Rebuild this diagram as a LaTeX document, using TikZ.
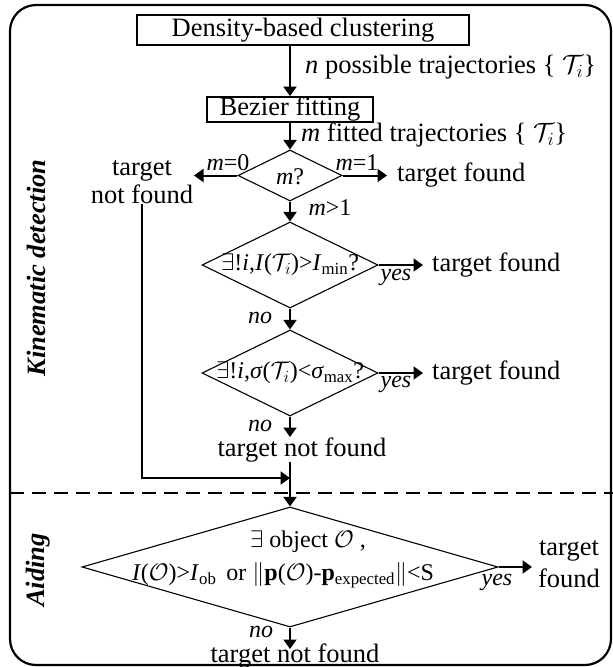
\RequirePackage{fix-cm}
\documentclass[tikz,border=0pt]{standalone}
\usepackage{fontspec}
\setmainfont{Liberation Serif}
\usetikzlibrary{arrows.meta,shapes.geometric}
\tikzset{
  arr/.style={line width=2pt,-{Triangle[length=9.5pt,width=13pt]}},
  dia/.style={draw,diamond,line width=1.1pt,inner sep=0pt},
  boxnode/.style={draw,line width=1.8pt,inner sep=0pt},
  big/.style={font=\fontsize{26.5}{28}\selectfont,inner sep=0pt},
  sml/.style={font=\fontsize{24}{26}\selectfont,inner sep=0pt},
  side/.style={font=\fontsize{26.5}{28}\selectfont\bfseries\itshape,inner sep=0pt,rotate=90},
}
\begin{document}
\begin{tikzpicture}[x=1pt,y=-1pt]
\useasboundingbox (0,0) rectangle (613,667);
% frame
\draw[line width=2.2pt,rounded corners=26pt] (10,5) rectangle (611,665);
\draw[line width=1.5pt,dash pattern=on 14pt off 8pt] (10,493) -- (613,493);
% side labels
\node[side] (kin) at (36,268) {Kinematic detection};
\node[side] (aid) at (38,570) {Aiding};
% boxes
\node[boxnode,big,minimum width=332pt,minimum height=30pt] (dens) at (303,30) {Density-based clustering};
\node[boxnode,big,minimum width=166pt,minimum height=25pt] (bez) at (290,109.5) {Bezier fitting};
\draw[arr] (bez.north |- dens.south) -- (bez.north);
\node[big,anchor=west] (lbn) at (305,67) {\textit{n} possible trajectories \{ $\mathcal{T}_i$\}};
% diamond 1
\node[dia,minimum width=104pt,minimum height=51pt] (d1) at (290,175.5) {};
\node[sml] (t1) at (290,177) {\textit{m}?};
\draw[arr] (bez.south) -- (d1.north);
\node[big,anchor=west] (lbm) at (301,135) {\textit{m} fitted trajectories \{ $\mathcal{T}_i$\}};
\coordinate (c0) at (194,175.5);
\coordinate (c1) at (387,175.5);
\draw[arr] (d1.west) -- (c0);
\draw[arr] (d1.east) -- (c1);
\node[sml] (lm0) at (228,163) {\textit{m}=0};
\node[sml] (lm1) at (357,163) {\textit{m}=1};
\node[big,align=center,font=\fontsize{26.5}{28}\selectfont] (tnf0) at (142,182) {target\\not found};
\node[big,anchor=west] (tf1) at (397,175) {target found};
% diamond 2
\node[dia,minimum width=176pt,minimum height=86pt] (d2) at (290,265) {};
\node[sml] (t2) at (d2) {$\exists$!\textit{i},\textit{I}($\mathcal{T}_i$)>\textit{I}\textsubscript{min}?};
\draw[arr] (d1.south) -- (d2.north);
\node[sml] (lm2) at (330,208) {\textit{m}>1};
\coordinate (c2) at (423,265);
\draw[arr] (d2.east) -- (c2);
\node[sml] (y2) at (396,277) {\textit{yes}};
\node[big,anchor=west] (tf2) at (432,265) {target found};
% diamond 3
\node[dia,minimum width=176pt,minimum height=86pt] (d3) at (290,373) {};
\node[sml] (t3) at (d3) {$\exists$!\textit{i},\textit{σ}($\mathcal{T}_i$)<\textit{σ}\textsubscript{max}?};
\draw[arr] (d2.south) -- (d3.north);
\node[sml] (n2) at (260,318) {\textit{no}};
\coordinate (c3) at (423,373);
\draw[arr] (d3.east) -- (c3);
\node[sml] (y3) at (396,384) {\textit{yes}};
\node[big,anchor=west] (tf3) at (432,373) {target found};
\coordinate (c4) at (290,437);
\draw[arr] (d3.south) -- (c4);
\node[sml] (n3) at (260,426) {\textit{no}};
\node[big] (tnf1) at (302,450) {target not found};
% aiding diamond
\node[dia,minimum width=416pt,minimum height=120pt] (d4) at (290,567) {};
\node[sml] (t4a) at (308,542) {$\exists$ object $\mathcal{O}$ ,};
\node[sml] (t4b) at (283,575) {\textit{I}($\mathcal{O}$)>\textit{I}\textsubscript{ob}\, or $\Vert$\textbf{p}($\mathcal{O}$)-\textbf{p}\textsubscript{expected}$\Vert$<S};
\coordinate (j) at (290,478);
\draw[arr] (tnf0.south) |- (j);
\draw[arr] (tnf1.south -| d4.north) -- (d4.north);
\coordinate (c5) at (532,567);
\draw[arr] (d4.east) -- (c5);
\node[sml] (y4) at (497,582) {\textit{yes}};
\node[big,align=center,font=\fontsize{26.5}{32}\selectfont] (tf4) at (569,564) {target\\found};
\coordinate (c6) at (290,649);
\draw[arr] (d4.south) -- (c6);
\node[sml] (n4) at (261,632) {\textit{no}};
\node[big] (tnf2) at (295,656) {target not found};
\end{tikzpicture}
\end{document}
